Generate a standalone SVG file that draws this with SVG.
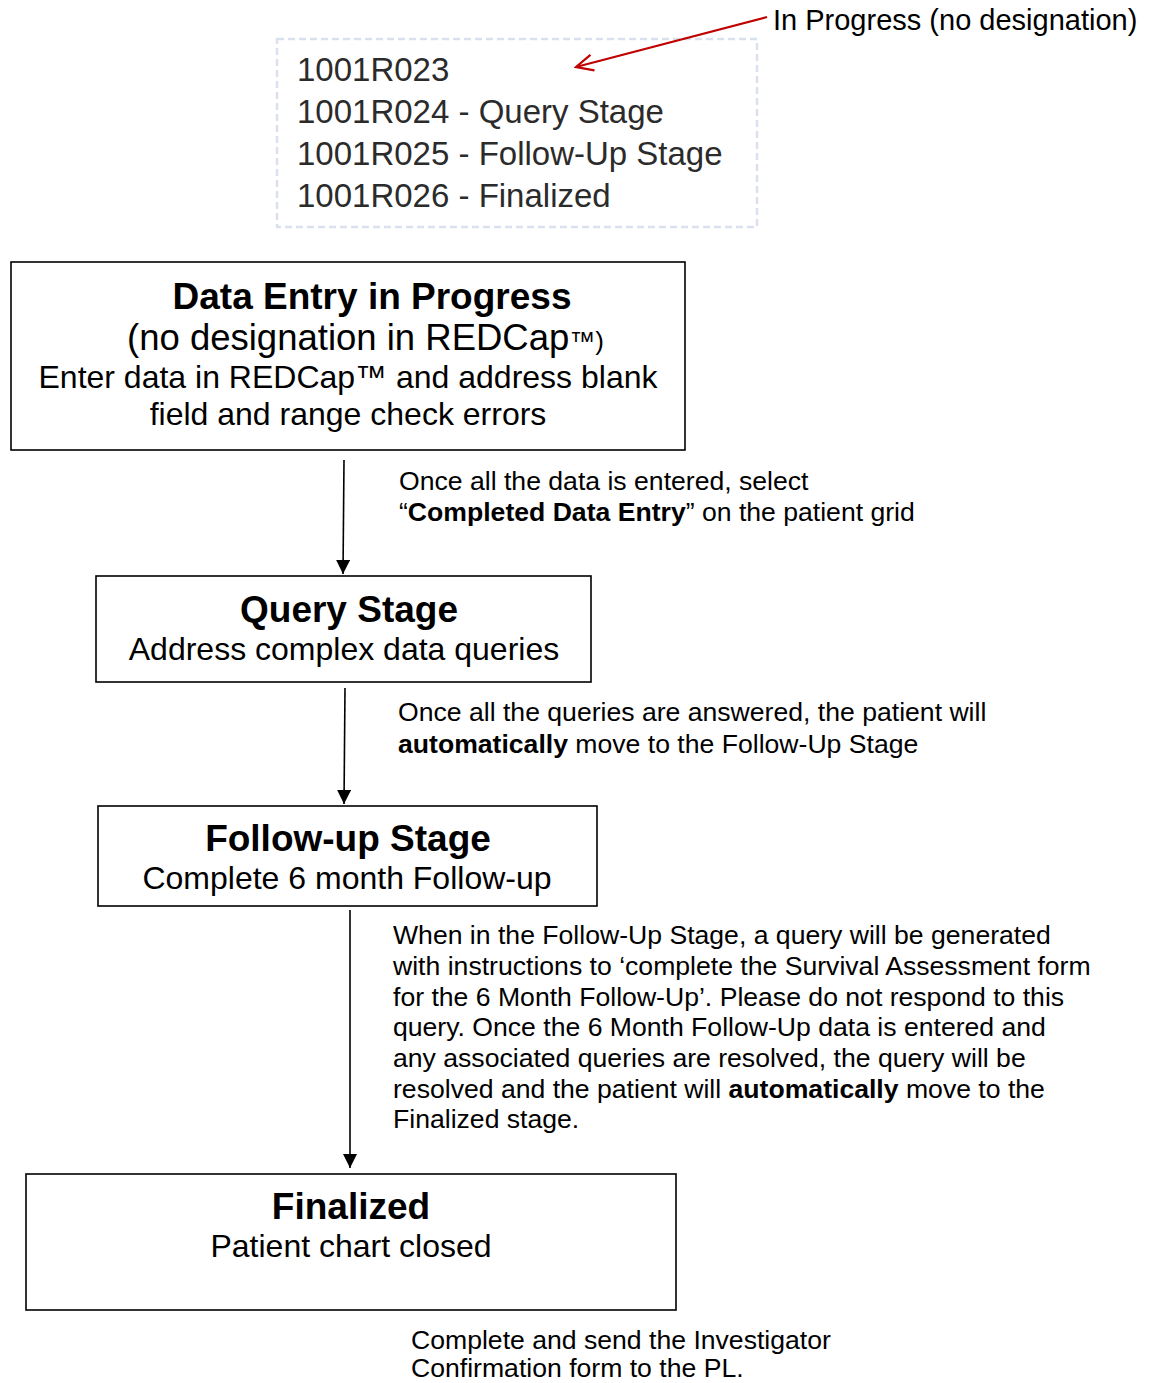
<svg xmlns="http://www.w3.org/2000/svg" width="1152" height="1383" viewBox="0 0 1152 1383">
<style>
  text { font-family: "Liberation Sans", Arial, sans-serif; fill: #000; }
  .box { fill: #fff; stroke: #000; stroke-width: 1.6; }
  .title { font-size: 37px; font-weight: bold; text-anchor: middle; }
  .sub { font-size: 32px; text-anchor: middle; }
  .note { font-size: 26.6px; }
  .ids { font-size: 33px; fill: #2b2b2b; }
  .conn { stroke: #000; stroke-width: 1.6; fill: none; }
</style>
<defs>
  <marker id="ah" viewBox="0 0 14 14" refX="14" refY="7" markerWidth="14" markerHeight="14" markerUnits="userSpaceOnUse" orient="auto">
    <path d="M0,0 L14,7 L0,14 Z" fill="#000"/>
  </marker>
  <marker id="rah" viewBox="0 0 22 22" refX="20" refY="11" markerWidth="22" markerHeight="22" markerUnits="userSpaceOnUse" orient="auto">
    <path d="M3,3 L20,11 L3,19" fill="none" stroke="#c00000" stroke-width="2.2"/>
  </marker>
</defs>

<g id="status-list">
  <rect x="277" y="39" width="480" height="188" fill="#fff" stroke="#d9e1ef" stroke-width="2.5" stroke-dasharray="7 4"/>
  <text class="ids" x="297" y="81">1001R023</text>
  <text class="ids" x="297" y="123">1001R024 - Query Stage</text>
  <text class="ids" x="297" y="165">1001R025 - Follow-Up Stage</text>
  <text class="ids" x="297" y="207">1001R026 - Finalized</text>
</g>

<g id="in-progress-label">
  <text x="773" y="30" font-size="29">In Progress (no designation)</text>
</g>

<g id="data-entry">
  <rect class="box" x="11" y="262" width="674" height="188"/>
  <text class="title" x="372" y="309">Data Entry in Progress</text>
  <text x="127" y="350" font-size="36.5">(no designation in REDCap<tspan font-size="26">™)</tspan></text>
  <text class="sub" x="348" y="388">Enter data in REDCap™ and address blank</text>
  <text class="sub" x="348" y="425">field and range check errors</text>
</g>

<g id="query-stage">
  <rect class="box" x="96" y="576" width="495" height="106"/>
  <text class="title" x="349" y="622">Query Stage</text>
  <text class="sub" x="344" y="660">Address complex data queries</text>
</g>

<g id="follow-up-stage">
  <rect class="box" x="98" y="806" width="499" height="100"/>
  <text class="title" x="348" y="851">Follow-up Stage</text>
  <text class="sub" x="347" y="889">Complete 6 month Follow-up</text>
</g>

<g id="finalized">
  <rect class="box" x="26" y="1174" width="650" height="136"/>
  <text class="title" x="351" y="1219">Finalized</text>
  <text class="sub" x="351" y="1257">Patient chart closed</text>
</g>

<g id="connectors">
  <line class="conn" x1="344" y1="460" x2="343" y2="574" marker-end="url(#ah)"/>
  <line class="conn" x1="345" y1="688" x2="344" y2="804" marker-end="url(#ah)"/>
  <line class="conn" x1="350" y1="910" x2="350" y2="1168" marker-end="url(#ah)"/>
  <line x1="767" y1="17" x2="576" y2="67" stroke="#c00000" stroke-width="2.2" marker-end="url(#rah)"/>
</g>

<g id="notes">
  <text class="note" x="399" y="490">Once all the data is entered, select</text>
  <text class="note" x="399" y="521">“<tspan font-weight="bold">Completed Data Entry</tspan>” on the patient grid</text>
  <text class="note" x="398" y="721">Once all the queries are answered, the patient will</text>
  <text class="note" x="398" y="753"><tspan font-weight="bold">automatically</tspan> move to the Follow-Up Stage</text>
  <text class="note" x="393" y="944">When in the Follow-Up Stage, a query will be generated</text>
  <text class="note" x="393" y="975">with instructions to ‘complete the Survival Assessment form</text>
  <text class="note" x="393" y="1006">for the 6 Month Follow-Up’. Please do not respond to this</text>
  <text class="note" x="393" y="1036">query. Once the 6 Month Follow-Up data is entered and</text>
  <text class="note" x="393" y="1067">any associated queries are resolved, the query will be</text>
  <text class="note" x="393" y="1098">resolved and the patient will <tspan font-weight="bold">automatically</tspan> move to the</text>
  <text class="note" x="393" y="1128">Finalized stage.</text>
  <text class="note" x="411" y="1349">Complete and send the Investigator</text>
  <text class="note" x="411" y="1377">Confirmation form to the PL.</text>
</g>
</svg>
